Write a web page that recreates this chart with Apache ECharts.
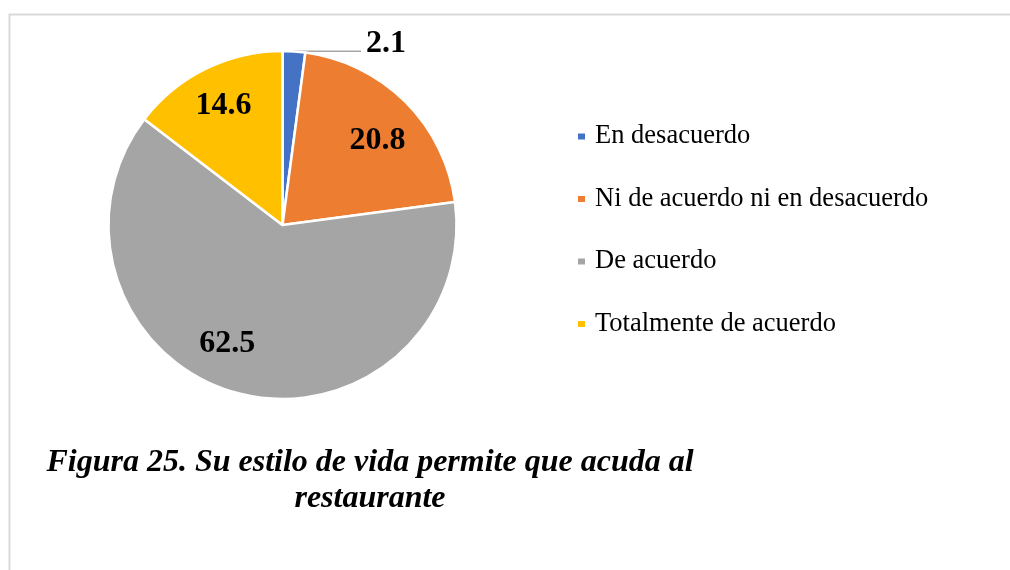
<!DOCTYPE html>
<html>
<head>
<meta charset="utf-8">
<script src="https://cdn.jsdelivr.net/npm/echarts@6/dist/echarts.min.js"></script>
<style>
html,body{margin:0;padding:0;background:#fff;}
#chart{width:1010px;height:570px;}
</style>
</head>
<body>
<div id="chart"></div>
<script>
var categories = ['En desacuerdo', 'Ni de acuerdo ni en desacuerdo', 'De acuerdo', 'Totalmente de acuerdo'];
var values = [2.1, 20.8, 62.5, 14.6];
var colors = ['#4472C4', '#ED7D31', '#A5A5A5', '#FFC000'];
var titleLines = ['Figura 25. Su estilo de vida permite que acuda al', 'restaurante'];

var chart = echarts.init(document.getElementById('chart'));
var labelFont = {fontFamily: '"Liberation Serif", "Times New Roman", serif', fontWeight: 'bold', fontSize: 32, color: '#000'};

var mainData = categories.map(function (c, i) {
  var d = {name: c, value: values[i], itemStyle: {color: colors[i]}};
  if (i === 0) {
    d.label = Object.assign({show: true, position: 'outside', lineHeight: 16, distanceToLabelLine: 5, formatter: '{c}\n '}, labelFont);
    d.labelLine = {show: true, length: 0.1, length2: 67, lineStyle: {color: '#A6A6A6', width: 1.5}};
  } else {
    d.label = {show: false};
    d.labelLine = {show: false};
  }
  return d;
});

var labelData = categories.map(function (c, i) {
  var d = {name: c, value: values[i], itemStyle: {color: 'rgba(0,0,0,0)'}};
  if (i === 0) {
    d.label = {show: false};
  } else {
    d.label = Object.assign({show: true, position: 'inside', formatter: '{c}'}, labelFont);
    if (i === 1) d.label.offset = [1, 10];
    if (i === 2) d.label.offset = [-21, -10];
  }
  return d;
});

var option = {
  animation: false,
  legend: {
    orient: 'vertical',
    left: 571,
    top: 118,
    icon: 'rect',
    itemWidth: 9,
    itemHeight: 8,
    itemGap: 35.5,
    data: categories,
    textStyle: {fontFamily: '"Liberation Serif", "Times New Roman", serif', fontSize: 26.5, lineHeight: 26, color: '#000', padding: [0, 0, 0, 4]}
  },
  graphic: [
    {type: 'rect', silent: true, z: -1, shape: {x: 9.5, y: 14.5, width: 1100, height: 700}, style: {fill: 'none', stroke: '#D9D9D9', lineWidth: 2}},
    {type: 'text', silent: true, x: 370, y: 445, style: {text: titleLines.join('\n'), textAlign: 'center', textVerticalAlign: 'top', lineHeight: 36, font: 'italic bold 32px "Liberation Serif", "Times New Roman", serif', fill: '#000'}}
  ],
  series: [
    {
      type: 'pie',
      center: [282.5, 225],
      radius: [0, 174],
      startAngle: 90,
      clockwise: true,
      avoidLabelOverlap: false,
      itemStyle: {borderColor: '#fff', borderWidth: 2.5},
      emphasis: {disabled: true},
      data: mainData
    },
    {
      type: 'pie',
      center: [282.5, 225],
      radius: [0, 260],
      startAngle: 90,
      clockwise: true,
      silent: true,
      avoidLabelOverlap: false,
      legendHoverLink: false,
      itemStyle: {borderWidth: 0},
      emphasis: {disabled: true},
      labelLine: {show: false},
      data: labelData
    }
  ]
};
chart.setOption(option);
</script>
</body>
</html>
